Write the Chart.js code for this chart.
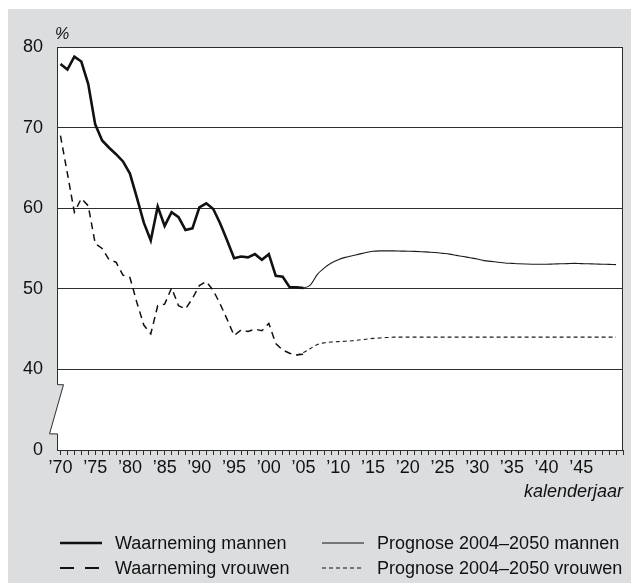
<!DOCTYPE html>
<html lang="nl">
<head>
<meta charset="utf-8">
<title>Arbeidsparticipatie</title>
<script src="https://cdn.jsdelivr.net/npm/chart.js@4.4.1/dist/chart.umd.min.js"></script>
<style>
    body { margin: 0; background: #ffffff; }
    #paneel { position: absolute; left: 8px; top: 9px; width: 623px; height: 574px; background: #dcdddf; }
</style>
</head>
<body>
<div id="paneel"><canvas id="grafiek"></canvas></div>
<script>
// ============================================
// DATA
// ============================================
const jarenWaarneming = Array.from({ length: 36 }, (_, i) => 1970 + i); // 1970-2005
const jarenPrognose = Array.from({ length: 47 }, (_, i) => 2004 + i);   // 2004-2050

const waarnemingMannen = [
    77.9, 77.2, 78.8, 78.2, 75.4, 70.4, 68.4, 67.5, 66.7, 65.8,
    64.3, 61.3, 58.2, 56.0, 60.2, 57.8, 59.5, 58.9, 57.3, 57.5,
    60.1, 60.6, 59.9, 58.1, 56.0, 53.8, 54.0, 53.9, 54.3, 53.6,
    54.3, 51.6, 51.5, 50.2, 50.2, 50.1
];
const waarnemingVrouwen = [
    69.0, 64.3, 59.5, 61.2, 60.3, 55.6, 55.0, 53.6, 53.3, 51.7,
    51.4, 48.3, 45.5, 44.4, 47.9, 48.1, 50.1, 47.9, 47.5, 48.8,
    50.4, 50.9, 49.8, 48.1, 46.2, 44.2, 44.9, 44.7, 45.0, 44.8,
    45.7, 43.2, 42.4, 42.0, 41.8, 41.9
];
const prognoseMannen = [
    50.2, 50.1, 50.5, 51.8, 52.6, 53.2, 53.6, 53.9, 54.1, 54.3,
    54.5, 54.65, 54.7, 54.7, 54.7, 54.68, 54.66, 54.64, 54.6, 54.55,
    54.5, 54.4, 54.3, 54.15, 54.0, 53.85, 53.7, 53.5, 53.4, 53.3,
    53.2, 53.15, 53.1, 53.07, 53.05, 53.05, 53.05, 53.08, 53.1, 53.12,
    53.15, 53.12, 53.1, 53.08, 53.05, 53.03, 53.0
];
const prognoseVrouwen = [
    41.8, 42.1, 42.6, 43.1, 43.3, 43.4, 43.45, 43.5, 43.55, 43.65,
    43.75, 43.85, 43.9, 43.95, 44.0, 44.0, 44.0, 44.0, 44.0, 44.0,
    44.0, 44.0, 44.0, 44.0, 44.0, 44.0, 44.0, 44.0, 44.0, 44.0,
    44.0, 44.0, 44.0, 44.0, 44.0, 44.0, 44.0, 44.0, 44.0, 44.0,
    44.0, 44.0, 44.0, 44.0, 44.0, 44.0, 44.0
];

const xTickJaren = Array.from({ length: 82 }, (_, i) => 1970 + i); // streepjes 1970-2051
const yTicks = [30, 40, 50, 60, 70, 80];
const yLabels = ['0', '40', '50', '60', '70', '80']; // as is onderbroken tussen 0 en 40
const legendaLabels = ['Waarneming mannen', 'Prognose 2004\u20132050 mannen', 'Waarneming vrouwen', 'Prognose 2004\u20132050 vrouwen'];

const FONT = '"Liberation Sans", Arial, sans-serif';
const INK = '#111111';
const GRID = '#2e2e2e';

function punten(jaren, waarden) {
    return jaren.map((j, i) => ({ x: j, y: waarden[i] }));
}

// ============================================
// PLUGIN: kader, asbreuk, % en legenda
// ============================================
const kaderPlugin = {
    id: 'kader',
    beforeDraw(chart) {
        const { ctx, chartArea: a } = chart;
        ctx.save();
        ctx.fillStyle = '#ffffff';
        ctx.fillRect(a.left, a.top, a.right - a.left, a.bottom - a.top);
        ctx.restore();
    },
    afterDraw(chart) {
        const { ctx, chartArea: a, scales: { y } } = chart;
        const bTop = y.getPixelForValue(38.1);
        const bBot = y.getPixelForValue(32);
        const xr = a.left + 6.5, xl = a.left - 7.5;
        const xm = a.left;
        const yCross = bTop + (xr - xm) / (xr - xl) * (bBot - bTop);

        ctx.save();
        // asbreuk vlakken
        ctx.fillStyle = '#dcdddf';
        ctx.beginPath();
        ctx.moveTo(xm, bTop); ctx.lineTo(xr, bTop); ctx.lineTo(xm, yCross); ctx.closePath();
        ctx.fill();
        ctx.fillStyle = '#ffffff';
        ctx.beginPath();
        ctx.moveTo(xm, yCross); ctx.lineTo(xl, bBot); ctx.lineTo(xm, bBot); ctx.closePath();
        ctx.fill();

        // linker as met breuk + rechter kader
        ctx.strokeStyle = GRID;
        ctx.lineWidth = 1;
        ctx.beginPath();
        ctx.moveTo(xm + 0.5, a.top);
        ctx.lineTo(xm + 0.5, bTop);
        ctx.lineTo(xr, bTop);
        ctx.lineTo(xl, bBot);
        ctx.lineTo(xm + 0.5, bBot);
        ctx.lineTo(xm + 0.5, a.bottom);
        ctx.moveTo(a.right - 0.5, a.top);
        ctx.lineTo(a.right - 0.5, a.bottom);
        ctx.stroke();

        // % boven de as
        ctx.fillStyle = INK;
        ctx.font = 'italic 16px ' + FONT;
        ctx.textAlign = 'left';
        ctx.textBaseline = 'alphabetic';
        ctx.fillText('%', a.left - 2, a.top - 8.5);

        // legenda (2 kolommen)
        const kolX = [52, 314];
        const rijY = [534, 559];
        ctx.font = '18px ' + FONT;
        ctx.textBaseline = 'middle';
        const stijlen = [
            { dash: [], w: 2.6 },
            { dash: [], w: 1.1 },
            { dash: [14, 11], w: 2.2 },
            { dash: [4, 3], w: 1.1 }
        ];
        stijlen.forEach((s, i) => {
            const x = kolX[i % 2], yy = rijY[Math.floor(i / 2)];
            ctx.strokeStyle = INK;
            ctx.lineWidth = s.w;
            ctx.setLineDash(s.dash);
            ctx.beginPath();
            ctx.moveTo(x, yy);
            ctx.lineTo(x + 42, yy);
            ctx.stroke();
            ctx.setLineDash([]);
            ctx.fillText(legendaLabels[i], x + 55, yy + 1);
        });
        ctx.restore();
    }
};

// ============================================
// GRAFIEK
// ============================================
new Chart(document.getElementById('grafiek'), {
    type: 'line',
    data: {
        datasets: [
            {
                label: legendaLabels[0],
                data: punten(jarenWaarneming, waarnemingMannen),
                borderColor: INK, borderWidth: 2.6, pointRadius: 0, tension: 0
            },
            {
                label: legendaLabels[1],
                data: punten(jarenPrognose, prognoseMannen),
                borderColor: '#1a1a1a', borderWidth: 1.1, pointRadius: 0, tension: 0.3
            },
            {
                label: legendaLabels[2],
                data: punten(jarenWaarneming, waarnemingVrouwen),
                borderColor: INK, borderWidth: 1.5, borderDash: [7, 5], pointRadius: 0, tension: 0
            },
            {
                label: legendaLabels[3],
                data: punten(jarenPrognose, prognoseVrouwen),
                borderColor: '#1a1a1a', borderWidth: 1.1, borderDash: [4, 3], pointRadius: 0, tension: 0.3
            }
        ]
    },
    options: {
        responsive: true,
        maintainAspectRatio: false,
        animation: false,
        layout: { padding: { left: 0, top: 38, right: 8, bottom: 0 } },
        plugins: {
            legend: { display: false },
            tooltip: { enabled: false }
        },
        scales: {
            x: {
                type: 'linear',
                min: 1969.5,
                max: 2051,
                afterFit: s => { s.height = 133; },
                afterBuildTicks: s => { s.ticks = xTickJaren.map(v => ({ value: v })); },
                ticks: {
                    autoSkip: false,
                    maxRotation: 0,
                    padding: 2,
                    color: INK,
                    font: { family: FONT, size: 18 },
                    callback: v => (v % 5 === 0 && v < 2050) ? '\u2019' + String(v % 100).padStart(2, '0') : ''
                },
                grid: { drawOnChartArea: false, drawTicks: true, tickLength: 5, color: GRID, lineWidth: 1 },
                border: { display: true, color: GRID, width: 1 },
                title: {
                    display: true,
                    text: 'kalenderjaar',
                    align: 'end',
                    color: INK,
                    font: { family: FONT, size: 18, style: 'italic' },
                    padding: { top: 0, bottom: 80 }
                }
            },
            y: {
                min: 30,
                max: 80,
                afterFit: s => { s.width = 49; },
                afterBuildTicks: s => { s.ticks = yTicks.map(v => ({ value: v })); },
                ticks: {
                    padding: 14,
                    color: INK,
                    font: { family: FONT, size: 18 },
                    callback: v => yLabels[yTicks.indexOf(v)]
                },
                grid: {
                    drawTicks: false,
                    color: c => (c.tick && c.tick.value === 30) ? 'rgba(0,0,0,0)' : GRID,
                    lineWidth: 1
                },
                border: { display: false }
            }
        }
    },
    plugins: [kaderPlugin]
});
</script>
</body>
</html>
